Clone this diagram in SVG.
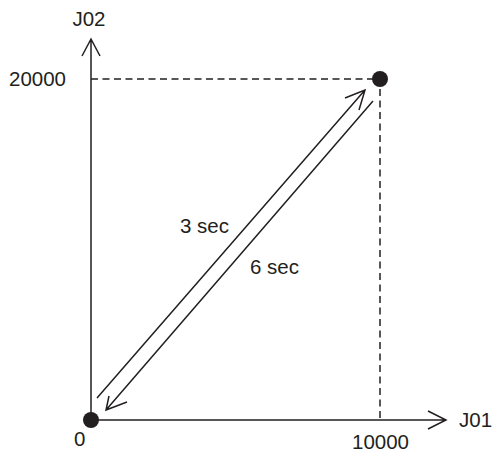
<svg xmlns="http://www.w3.org/2000/svg" width="493" height="452" viewBox="0 0 493 452">
<style>
.ax{stroke:#231f20;stroke-width:1.5;fill:none}
.ds{stroke:#231f20;stroke-width:1.5;fill:none;stroke-dasharray:7,4.5}
.t{font-family:"Liberation Sans",Arial,sans-serif;font-size:20.5px;fill:#231f20}
.dot{fill:#231f20}
</style>
<rect width="493" height="452" fill="#fff"/>
<g id="connectors">
<path class="ax" d="M91,420 V39 M82,56 L91,39 L100,56"/>
<path class="ax" d="M91,420 H446 M428,411 L446,420 L428,429"/>
<path class="ds" d="M91,79 H380 V420"/>
<path class="ax" d="M97,398 L365,90 M345,98 L365,90 L359,110"/>
<path class="ax" d="M373,101 L106,410 M109,396 L106,410 L127,402"/>
</g>
<g id="origin"><circle class="dot" cx="91" cy="420" r="8"/></g>
<g id="target"><circle class="dot" cx="380" cy="79" r="8"/></g>
<g id="labels">
<text class="t" x="89" y="26" text-anchor="middle">J02</text>
<text class="t" x="9" y="86">20000</text>
<text class="t" x="74" y="446">0</text>
<text class="t" x="352" y="449">10000</text>
<text class="t" x="459" y="427">J01</text>
<text class="t" x="180" y="233">3 sec</text>
<text class="t" x="250" y="274">6 sec</text>
</g>
</svg>
